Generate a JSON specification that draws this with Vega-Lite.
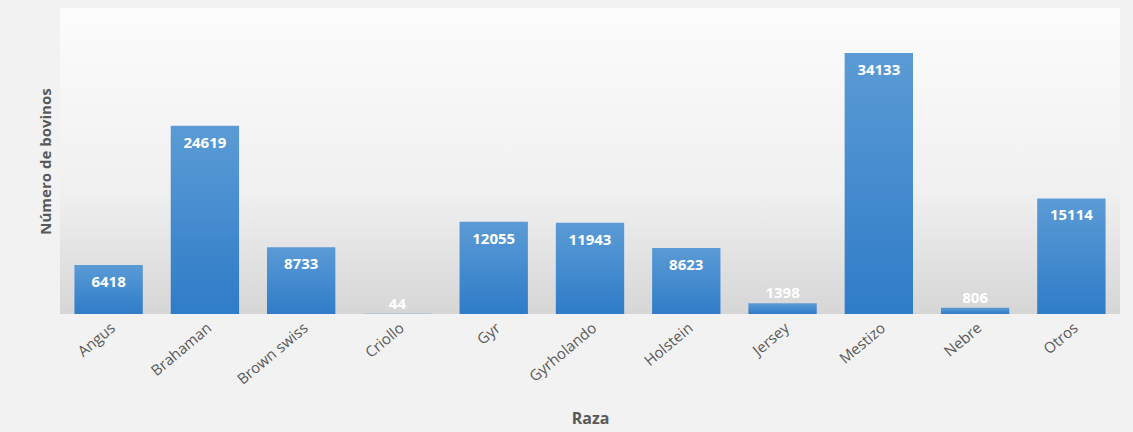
{
  "$schema": "https://vega.github.io/schema/vega-lite/v6.json",
  "width": 1060,
  "height": 306,
  "autosize": "none",
  "padding": {"left": 60, "top": 8, "right": 13, "bottom": 118},
  "background": "#f2f2f2",
  "config": {
    "view": {
      "stroke": null,
      "fill": {"gradient": "linear", "x1": 0, "y1": 0, "x2": 0, "y2": 1,
        "stops": [{"offset": 0, "color": "#fcfcfc"}, {"offset": 0.6, "color": "#f0f0f0"}, {"offset": 1, "color": "#d6d6d6"}]}
    },
    "font": "Open Sans"
  },
  "data": {
    "values": [
      {"raza": "Angus", "n": 6418},
      {"raza": "Brahaman", "n": 24619},
      {"raza": "Brown swiss", "n": 8733},
      {"raza": "Criollo", "n": 44},
      {"raza": "Gyr", "n": 12055},
      {"raza": "Gyrholando", "n": 11943},
      {"raza": "Holstein", "n": 8623},
      {"raza": "Jersey", "n": 1398},
      {"raza": "Mestizo", "n": 34133},
      {"raza": "Nebre", "n": 806},
      {"raza": "Otros", "n": 15114}
    ]
  },
  "encoding": {
    "x": {
      "field": "raza", "type": "nominal", "sort": null,
      "scale": {"paddingInner": 0.29, "paddingOuter": 0.15},
      "axis": {
        "title": "Raza", "titleFontSize": 16, "titleFontWeight": "bold", "titleColor": "#595959",
        "titleY": 104, "titleBaseline": "middle",
        "labelAngle": -40, "labelAlign": "right", "labelBaseline": "top", "labelFontSize": 15,
        "labelColor": "#595959", "labelPadding": 6, "domain": false, "ticks": false, "labelOverlap": false
      }
    },
    "y": {
      "field": "n", "type": "quantitative",
      "scale": {"domain": [0, 40000], "nice": false},
      "axis": {
        "title": "Número de bovinos", "titleFontSize": 15, "titleFontWeight": "bold", "titleColor": "#595959",
        "titlePadding": 7, "labels": false, "ticks": false, "domain": false, "grid": false
      }
    }
  },
  "layer": [
    {
      "mark": {
        "type": "bar",
        "color": {"gradient": "linear", "x1": 0, "y1": 0, "x2": 0, "y2": 1,
          "stops": [{"offset": 0, "color": "#5b9bd5"}, {"offset": 1, "color": "#2f7cc8"}]}
      }
    },
    {
      "transform": [{"filter": "datum.n >= 3000"}],
      "mark": {"type": "text", "color": "white", "fontWeight": "bold", "fontSize": 15, "baseline": "top", "dy": 10},
      "encoding": {"text": {"field": "n", "type": "quantitative", "format": "d"}}
    },
    {
      "transform": [{"filter": "datum.n < 3000"}],
      "mark": {"type": "text", "color": "white", "fontWeight": "bold", "fontSize": 15, "baseline": "bottom", "dy": -2},
      "encoding": {"text": {"field": "n", "type": "quantitative", "format": "d"}}
    }
  ]
}
